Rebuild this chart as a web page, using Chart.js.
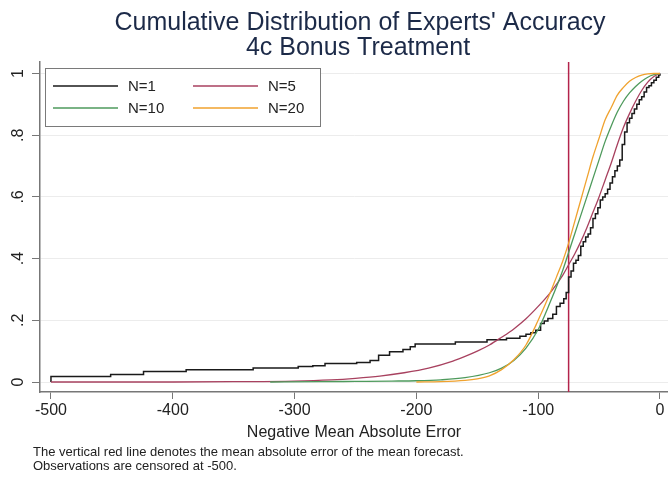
<!DOCTYPE html>
<html>
<head>
<meta charset="utf-8">
<script src="https://cdn.jsdelivr.net/npm/chart.js@4.4.1/dist/chart.umd.min.js"></script>
<style>
  html, body { margin: 0; padding: 0; background: #fff; }
  #wrap { width: 668px; height: 479px; }
</style>
</head>
<body>
<div id="wrap"><canvas id="cdfChart" width="668" height="479"></canvas></div>
<script>
// ticks
var xTicks = [-500, -400, -300, -200, -100, 0];
var yTicks = [0, 0.2, 0.4, 0.6, 0.8, 1];
var yTickLabels = ["0", ".2", ".4", ".6", ".8", "1"];

var seriesLabels = ["N=1", "N=5", "N=10", "N=20"];
var seriesColors = ["#1a1a1a", "#a8415f", "#4e9a5c", "#f0a22e"];

// vertical line: mean absolute error of the mean forecast
var meanForecastError = -75;

// N=1 (empirical, step)
var n1X = [-500, -500, -451, -424, -389, -334, -297, -285, -275, -249,
           -238, -231, -222, -211, -205, -201, -168, -142, -126, -115,
           -110, -106, -102, -98, -95, -92, -88, -85, -82, -79,
           -77, -75, -75, -73, -71, -69, -67, -65, -63, -61,
           -59, -57, -55, -53, -51, -49, -47, -45, -43, -41,
           -39, -37, -35, -33, -31, -29, -27, -25, -23, -21,
           -19, -17, -15, -13, -11, -9, -7, -5, -3, -1, 0];
var n1Y = [0, 0.018, 0.024, 0.034, 0.04, 0.045, 0.05, 0.053, 0.06, 0.063,
           0.07, 0.087, 0.098, 0.105, 0.114, 0.123, 0.13, 0.137, 0.142, 0.148,
           0.155, 0.16, 0.168, 0.19, 0.198, 0.206, 0.22, 0.245, 0.255, 0.27,
           0.29, 0.3, 0.34, 0.36, 0.385, 0.395, 0.41, 0.44, 0.455, 0.47,
           0.48, 0.5, 0.53, 0.545, 0.565, 0.59, 0.6, 0.61, 0.625, 0.645,
           0.665, 0.685, 0.7, 0.72, 0.77, 0.81, 0.84, 0.855, 0.87, 0.885,
           0.9, 0.915, 0.925, 0.94, 0.955, 0.96, 0.97, 0.978, 0.988, 0.995, 1];

// N=5
var n5X = [-500, -400, -350, -300, -270, -250, -230, -210, -190, -170,
           -160, -150, -140, -130, -120, -110, -100, -90, -80, -75,
           -70, -65, -60, -55, -50, -45, -40, -35, -30, -25,
           -20, -15, -10, -5, 0];
var n5Y = [0, 0, 0.001, 0.003, 0.007, 0.012, 0.019, 0.03, 0.045, 0.068,
           0.083, 0.1, 0.12, 0.145, 0.172, 0.205, 0.245, 0.29, 0.345, 0.38,
           0.415, 0.455, 0.5, 0.55, 0.6, 0.655, 0.71, 0.77, 0.825, 0.87,
           0.91, 0.945, 0.972, 0.99, 1];

// N=10
var n10X = [-320, -280, -250, -220, -200, -180, -160, -140, -130, -120,
            -110, -100, -90, -80, -75, -70, -65, -60, -55, -50,
            -45, -40, -35, -30, -25, -20, -15, -10, -5, 0];
var n10Y = [0, 0.001, 0.002, 0.003, 0.004, 0.007, 0.014, 0.03, 0.045, 0.07,
            0.11, 0.17, 0.26, 0.36, 0.42, 0.48, 0.54, 0.6, 0.66, 0.72,
            0.78, 0.83, 0.875, 0.91, 0.937, 0.958, 0.975, 0.988, 0.996, 1];

// N=20
var n20X = [-200, -180, -160, -150, -140, -130, -120, -110, -100, -90,
            -85, -80, -75, -70, -65, -60, -55, -50, -45, -40,
            -35, -30, -25, -20, -15, -10, -5, 0];
var n20Y = [0, 0.001, 0.005, 0.01, 0.02, 0.04, 0.072, 0.12, 0.2, 0.29,
            0.34, 0.39, 0.45, 0.52, 0.59, 0.66, 0.73, 0.79, 0.85, 0.89,
            0.93, 0.955, 0.975, 0.987, 0.995, 0.999, 1, 1];

var titleLines = ["Cumulative Distribution of Experts' Accuracy", "4c Bonus Treatment"];
var noteLines = [
  "The vertical red line denotes the mean absolute error of the mean forecast.",
  "Observations are censored at -500."
];

var FONT = "'Liberation Sans', Arial, sans-serif";

function toPoints(xs, ys) {
  return xs.map(function (x, i) { return { x: x, y: ys[i] }; });
}

// titles, rotated y labels, legend box, note, vertical line
var decorations = {
  id: "decorations",
  beforeDraw: function (chart) {
    var ctx = chart.ctx;
    ctx.save();
    ctx.fillStyle = "#fff";
    ctx.fillRect(0, 0, chart.width, chart.height);
    ctx.restore();
  },
  beforeDatasetsDraw: function (chart) {
    var ctx = chart.ctx;
    var area = chart.chartArea;
    var px = chart.scales.x.getPixelForValue(meanForecastError);
    ctx.save();
    ctx.strokeStyle = "#b3234b";
    ctx.lineWidth = 1.5;
    ctx.beginPath();
    ctx.moveTo(px, area.top);
    ctx.lineTo(px, area.bottom);
    ctx.stroke();
    ctx.restore();
  },
  afterDraw: function (chart) {
    var ctx = chart.ctx;
    var yScale = chart.scales.y;
    ctx.save();

    // title
    ctx.fillStyle = "#1c2a48";
    ctx.font = "25px " + FONT;
    ctx.textAlign = "center";
    ctx.textBaseline = "middle";
    ctx.fillText(titleLines[0], 360, 23);
    ctx.fillText(titleLines[1], 358, 48);

    // y tick labels, vertical
    ctx.fillStyle = "#222";
    ctx.font = "16px " + FONT;
    yTicks.forEach(function (v, i) {
      var py = yScale.getPixelForValue(v);
      ctx.save();
      ctx.translate(19, py);
      ctx.rotate(-Math.PI / 2);
      ctx.fillText(yTickLabels[i], 0, 0);
      ctx.restore();
    });

    // legend
    ctx.fillStyle = "#fff";
    ctx.fillRect(45, 68, 275, 58);
    ctx.strokeStyle = "#7a7a7a";
    ctx.lineWidth = 1;
    ctx.strokeRect(45.5, 68.5, 275, 58);
    var cols = [53, 193];
    var rows = [86, 108];
    ctx.font = "15px " + FONT;
    ctx.textAlign = "left";
    seriesLabels.forEach(function (label, i) {
      var cx = cols[i % 2];
      var cy = rows[Math.floor(i / 2)];
      ctx.strokeStyle = seriesColors[i];
      ctx.lineWidth = 1.5;
      ctx.beginPath();
      ctx.moveTo(cx, cy);
      ctx.lineTo(cx + 65, cy);
      ctx.stroke();
      ctx.fillStyle = "#222";
      ctx.fillText(label, cx + 75, cy + 1);
    });

    // note
    ctx.font = "13px " + FONT;
    ctx.fillStyle = "#222";
    ctx.fillText(noteLines[0], 33, 452);
    ctx.fillText(noteLines[1], 33, 466);

    ctx.restore();
  }
};

var ctx = document.getElementById("cdfChart").getContext("2d");
var cdfChart = new Chart(ctx, {
  type: "line",
  data: {
    datasets: [
      {
        label: seriesLabels[0],
        data: toPoints(n1X, n1Y),
        borderColor: seriesColors[0],
        borderWidth: 1.5,
        stepped: true,
        order: 4
      },
      {
        label: seriesLabels[1],
        data: toPoints(n5X, n5Y),
        borderColor: seriesColors[1],
        borderWidth: 1.3,
        cubicInterpolationMode: "monotone",
        order: 3
      },
      {
        label: seriesLabels[2],
        data: toPoints(n10X, n10Y),
        borderColor: seriesColors[2],
        borderWidth: 1.3,
        cubicInterpolationMode: "monotone",
        order: 2
      },
      {
        label: seriesLabels[3],
        data: toPoints(n20X, n20Y),
        borderColor: seriesColors[3],
        borderWidth: 1.3,
        cubicInterpolationMode: "monotone",
        order: 1
      }
    ]
  },
  options: {
    responsive: false,
    animation: false,
    devicePixelRatio: 1,
    parsing: false,
    elements: { point: { radius: 0 }, line: { fill: false } },
    layout: { padding: { top: 62, bottom: 37, left: 0, right: 0 } },
    plugins: {
      legend: { display: false },
      tooltip: { enabled: false },
      title: { display: false }
    },
    scales: {
      x: {
        type: "linear",
        min: -509,
        max: 6.6,
        afterBuildTicks: function (s) {
          s.ticks = xTicks.map(function (v) { return { value: v }; });
        },
        afterFit: function (s) { s.height = 50; },
        ticks: {
          font: { family: FONT, size: 16 },
          color: "#222",
          padding: 2,
          maxRotation: 0,
          callback: function (v) { return String(v); }
        },
        grid: { drawOnChartArea: false, tickLength: 7, tickColor: "#777" },
        border: { color: "#777", width: 1.5 },
        title: {
          display: true,
          text: "Negative Mean Absolute Error",
          font: { family: FONT, size: 16 },
          color: "#222",
          padding: { top: 0, bottom: 0 }
        }
      },
      y: {
        type: "linear",
        min: -0.0324,
        max: 1.0373,
        afterBuildTicks: function (s) {
          s.ticks = yTicks.map(function (v) { return { value: v }; });
        },
        afterFit: function (s) { s.width = 40; },
        ticks: { display: false },
        grid: { color: "#ececec", tickLength: 8, tickColor: "#777" },
        border: { color: "#777", width: 1.5 }
      }
    }
  },
  plugins: [decorations]
});
</script>
</body>
</html>
